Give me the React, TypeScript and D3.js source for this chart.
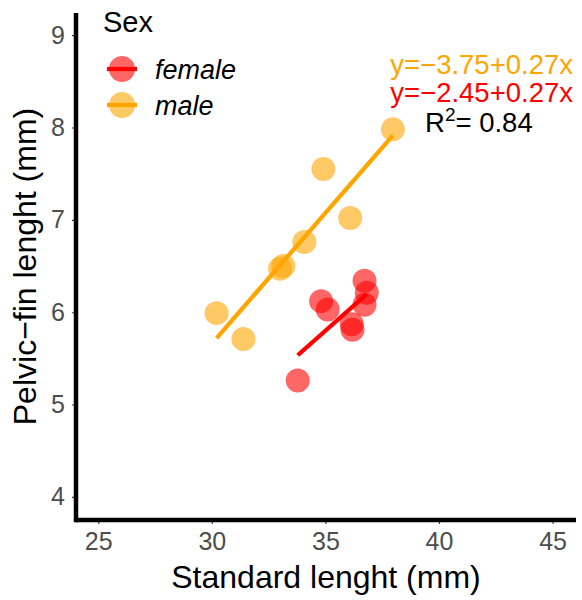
import React, { useEffect, useRef } from "react";
import * as d3 from "d3";

// standard length (mm) and pelvic-fin length (mm)
const femaleSL = [36.72, 36.82, 36.72, 34.81, 35.1, 36.16, 36.19, 33.78];
const femalePF = [6.34, 6.21, 6.08, 6.12, 6.03, 5.87, 5.81, 5.26];
const maleSL = [37.97, 34.91, 36.09, 34.07, 33.0, 33.15, 30.21, 31.39];
const malePF = [7.98, 7.55, 7.02, 6.76, 6.47, 6.5, 5.99, 5.71];

// fitted lines as drawn (intercept, slope)
const femaleFit = [-1.83, 0.218];
const maleFit = [-2.83, 0.283];

const groups = ["female", "male"];
const xTicks = [25, 30, 35, 40, 45];
const yTicks = [4, 5, 6, 7, 8, 9];
const eqLabels = ["y=\u22123.75+0.27x", "y=\u22122.45+0.27x"];
const r2Label = "0.84";

export default function App() {
  const ref = useRef<SVGSVGElement>(null);

  useEffect(() => {
    const left = 76, right = 576, top = 13, bottom = 520;
    const font = "'Liberation Sans', Arial, sans-serif";
    const colors: Record<string, string> = { female: "#FF0000", male: "#FFA500" };

    const svg = d3.select(ref.current);
    svg.selectAll("*").remove();

    const x = d3.scaleLinear().domain([24.02, 46.03]).range([left, right]);
    const y = d3.scaleLinear().domain([3.75, 9.24]).range([bottom, top]);

    const data = [
      { sex: "female", sl: femaleSL, pf: femalePF, fit: femaleFit },
      { sex: "male", sl: maleSL, pf: malePF, fit: maleFit },
    ];

    // points
    data.forEach((g) => {
      svg
        .append("g")
        .selectAll("circle")
        .data(g.sl.map((v, i) => [v, g.pf[i]]))
        .enter()
        .append("circle")
        .attr("cx", (d) => x(d[0]))
        .attr("cy", (d) => y(d[1]))
        .attr("r", 12)
        .style("fill", colors[g.sex])
        .style("fill-opacity", 0.6);
    });

    // regression lines over the range of each group
    data.forEach((g) => {
      const ext = d3.extent(g.sl) as [number, number];
      svg
        .append("path")
        .datum(ext)
        .attr(
          "d",
          d3
            .line<number>()
            .x((d) => x(d))
            .y((d) => y(g.fit[0] + g.fit[1] * d))
        )
        .style("stroke", colors[g.sex])
        .style("stroke-width", 4.3)
        .style("fill", "none");
    });

    // axes
    const xAxis = svg
      .append("g")
      .attr("transform", "translate(0," + bottom + ")")
      .call(d3.axisBottom(x).tickValues(xTicks).tickFormat(d3.format("d")).tickSize(4).tickPadding(8));
    const yAxis = svg
      .append("g")
      .attr("transform", "translate(" + left + ",0)")
      .call(d3.axisLeft(y).tickValues(yTicks).tickFormat(d3.format("d")).tickSize(4).tickPadding(7));
    [xAxis, yAxis].forEach((a) => {
      a.select(".domain").remove();
      a.selectAll("line").style("stroke", "#333333").style("stroke-width", 1.1);
      a.selectAll("text")
        .style("fill", "#4D4D4D")
        .style("font-family", font)
        .style("font-size", "25px");
    });
    xAxis.selectAll("line").attr("y1", 2);
    yAxis.selectAll("line").attr("x1", -2);

    svg
      .append("line")
      .attr("x1", left).attr("x2", right)
      .attr("y1", bottom).attr("y2", bottom)
      .style("stroke", "#000").style("stroke-width", 4.5);
    svg
      .append("line")
      .attr("x1", left).attr("x2", left)
      .attr("y1", top).attr("y2", bottom + 2.25)
      .style("stroke", "#000").style("stroke-width", 4.5);

    // axis titles
    svg
      .append("text")
      .attr("x", (left + right) / 2)
      .attr("y", 588)
      .attr("text-anchor", "middle")
      .style("font-family", font)
      .style("font-size", "32px")
      .text("Standard lenght (mm)");
    svg
      .append("text")
      .attr("transform", "translate(36," + (top + bottom) / 2 + ") rotate(-90)")
      .attr("text-anchor", "middle")
      .style("font-family", font)
      .style("font-size", "32px")
      .text("Pelvic\u2212fin lenght (mm)");

    // legend
    svg
      .append("text")
      .attr("x", 103)
      .attr("y", 32)
      .style("font-family", font)
      .style("font-size", "29px")
      .text("Sex");
    groups.forEach((s, i) => {
      const cy = 69 + i * 36;
      svg.append("circle")
        .attr("cx", 122).attr("cy", cy).attr("r", 13)
        .style("fill", colors[s]).style("fill-opacity", 0.6);
      svg.append("line")
        .attr("x1", 107).attr("x2", 137).attr("y1", cy).attr("y2", cy)
        .style("stroke", colors[s]).style("stroke-width", 4.3);
      svg.append("text")
        .attr("x", 155).attr("y", cy + 10)
        .style("font-family", font)
        .style("font-size", "27px")
        .style("font-style", "italic")
        .text(s);
    });

    // equations
    const eqColors = [colors.male, colors.female];
    eqLabels.forEach((t, i) => {
      svg.append("text")
        .attr("x", 573).attr("y", 74 + i * 28)
        .attr("text-anchor", "end")
        .style("font-family", font)
        .style("font-size", "27.5px")
        .style("fill", eqColors[i])
        .text(t);
    });
    const r2 = svg.append("text")
      .attr("x", 425).attr("y", 132)
      .style("font-family", font)
      .style("font-size", "27.5px");
    r2.append("tspan").text("R");
    r2.append("tspan").attr("dy", -11).style("font-size", "19px").text("2");
    r2.append("tspan").attr("dy", 11).text("= " + r2Label);
  }, []);

  return (
    <svg
      ref={ref}
      width={582}
      height={600}
      style={{ display: "block", position: "absolute", left: 0, top: 0, background: "#fff" }}
    />
  );
}
